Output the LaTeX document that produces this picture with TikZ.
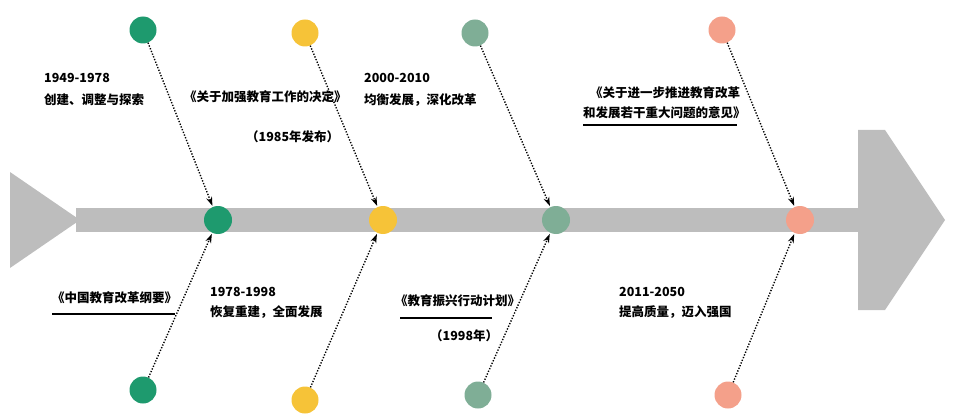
\documentclass[tikz,border=0pt]{standalone}
\usepackage{fontspec}
\setmainfont{Noto Sans CJK SC}
\usetikzlibrary{arrows.meta}
\definecolor{barg}{HTML}{BDBDBD}
\definecolor{cA}{HTML}{1E9A6E}
\definecolor{cB}{HTML}{F6C338}
\definecolor{cC}{HTML}{7FAE96}
\definecolor{cD}{HTML}{F4A08A}
\tikzset{
  dotA/.style={circle,fill=cA,minimum size=#1,inner sep=0pt},
  dotB/.style={circle,fill=cB,minimum size=#1,inner sep=0pt},
  dotC/.style={circle,fill=cC,minimum size=#1,inner sep=0pt},
  dotD/.style={circle,fill=cD,minimum size=#1,inner sep=0pt},
  link/.style={dash pattern=on 1.3pt off 1.6pt,line width=1.4pt,-{Stealth[length=9pt,width=6pt]},shorten >=1pt},
  lbl/.style={anchor=west,inner sep=0pt,font=\fontsize{12.5}{14}\selectfont\bfseries,align=left},
  uline/.style={line width=1.4pt}
}
\begin{document}
\begin{tikzpicture}[x=1pt,y=-1pt]
\useasboundingbox (0,0) rectangle (966,417);
% backbone
\fill[barg] (10,172) -- (80,220) -- (10,268) -- cycle;
\fill[barg] (76,208) rectangle (862,232);
\fill[barg] (858,130) -- (885,130) -- (945,220) -- (885,310) -- (858,310) -- cycle;
% bar dots
\node[dotA=28pt] (m1) at (218,220) {};
\node[dotB=28pt] (m2) at (383,220) {};
\node[dotC=28pt] (m3) at (556,220) {};
\node[dotD=28pt] (m4) at (800,220) {};
% top dots
\node[dotA=27pt] (t1) at (143,30) {};
\node[dotB=27pt] (t2) at (305,33) {};
\node[dotC=27pt] (t3) at (475,33) {};
\node[dotD=27pt] (t4) at (722,30) {};
% bottom dots
\node[dotA=27pt] (b1) at (143,390) {};
\node[dotB=27pt] (b2) at (305,400) {};
\node[dotC=27pt] (b3) at (478,395) {};
\node[dotD=27pt] (b4) at (728,395) {};
% connectors
\draw[link] (t1) -- (m1);
\draw[link] (t2) -- (m2);
\draw[link] (t3) -- (m3);
\draw[link] (t4) -- (m4);
\draw[link] (b1) -- (m1);
\draw[link] (b2) -- (m2);
\draw[link] (b3) -- (m3);
\draw[link] (b4) -- (m4);
% labels top
\node[lbl] (l1) at (44,78) {1949-1978};
\node[lbl] (l1b) at (44,100) {创建、调整与探索};
\node[lbl] (l2) at (184,97) {《关于加强教育工作的决定》};
\node[lbl] (l2b) at (246,137) {（1985年发布）};
\node[lbl] (l3) at (364,78) {2000-2010};
\node[lbl] (l3b) at (364,100) {均衡发展，深化改革};
\node[lbl] (l4) at (590,93) {《关于进一步推进教育改革};
\node[lbl] (l4b) at (583,113) {和发展若干重大问题的意见》};
\draw[uline] (583,125) -- (737,125);
% labels bottom
\node[lbl] (l5) at (52,298) {《中国教育改革纲要》};
\draw[uline] (52,314) -- (175,314);
\node[lbl] (l6) at (210,292) {1978-1998};
\node[lbl] (l6b) at (210,312) {恢复重建，全面发展};
\node[lbl] (l7) at (395,301) {《教育振兴行动计划》};
\draw[uline] (400,318) -- (492,318);
\node[lbl] (l7b) at (430,336) {（1998年）};
\node[lbl] (l8) at (619,292) {2011-2050};
\node[lbl] (l8b) at (619,312) {提高质量，迈入强国};
\end{tikzpicture}
\end{document}
